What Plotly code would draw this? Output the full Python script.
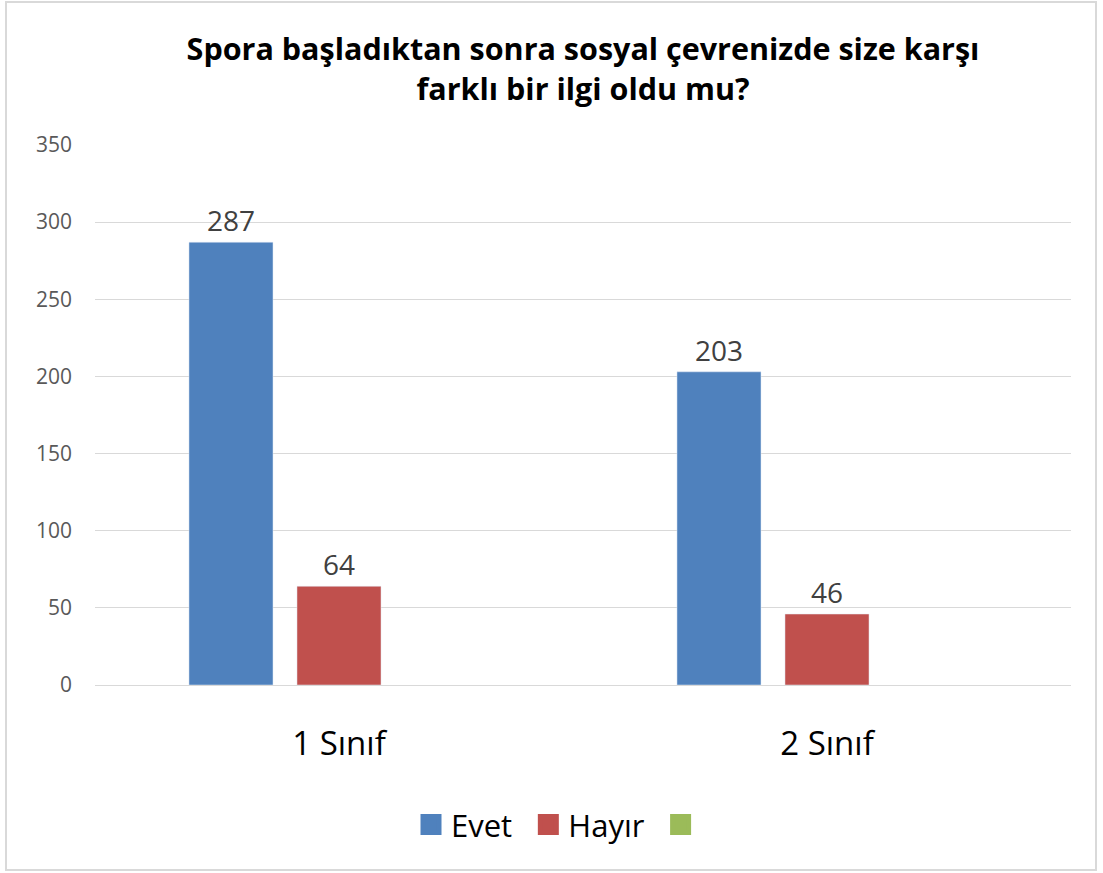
import plotly.graph_objects as go

categories = ["1 Sınıf", "2 Sınıf"]
evet = [287, 203]
hayir = [64, 46]
third = [None, None]
tick_vals = [0, 50, 100, 150, 200, 250, 300, 350]

FONT = "Open Sans"
BLUE, RED, GREEN = "#4f81bd", "#c0504d", "#9bbb59"

fig = go.Figure()
fig.add_trace(go.Bar(name="Evet", x=categories, y=evet, marker_color=BLUE,
                     text=evet, textposition="outside", showlegend=False,
                     textfont=dict(size=28, color="#404040", family=FONT), cliponaxis=False))
fig.add_trace(go.Bar(name="Hayır", x=categories, y=hayir, marker_color=RED,
                     text=hayir, textposition="outside", showlegend=False,
                     textfont=dict(size=28, color="#404040", family=FONT), cliponaxis=False))
fig.add_trace(go.Bar(name=" ", x=categories, y=third, marker_color=GREEN, showlegend=False))

# legend entries
for nm, col in [("Evet\u00a0\u200a", BLUE), ("Hayır\u00a0\u200a", RED), (" ", GREEN)]:
    fig.add_trace(go.Scatter(x=[None], y=[None], mode="markers", name=nm,
                             marker=dict(symbol="square", size=16, color=col,
                                         line=dict(color=col, width=5))))

fig.update_layout(
    width=1103, height=873,
    paper_bgcolor="white", plot_bgcolor="white",
    font=dict(family=FONT, color="#595959"),
    title=dict(text="<b>Spora başladıktan sonra sosyal çevrenizde size karşı<br>farklı bir ilgi oldu mu?</b>",
               x=0.5, xanchor="center", xref="paper", yref="container", y=0.931, yanchor="top",
               font=dict(size=30.5, color="black", family=FONT)),
    margin=dict(l=95, r=32, t=145, b=188),
    barmode="group", bargap=0.336, bargroupgap=0.222,
    legend=dict(orientation="h", x=0.479, xanchor="center", y=-0.209, yanchor="top",
                font=dict(size=31, color="black", family=FONT), itemwidth=30),
    xaxis=dict(tickfont=dict(size=33, color="black", family=FONT), showline=False,
               ticklabelstandoff=36),
    yaxis=dict(range=[0, 350], tickvals=tick_vals, showgrid=True, gridcolor="#d9d9d9",
               gridwidth=1.3, zeroline=True, zerolinecolor="#d9d9d9", zerolinewidth=1.3,
               tickfont=dict(size=21, color="#595959", family=FONT), ticklabelstandoff=22),
    shapes=[dict(type="rect", xref="paper", yref="paper", x0=-0.0912, x1=1.0256, y0=-0.3426, y1=1.2648,
                 line=dict(color="#d9d9d9", width=2))],
)
fig.write_html("out.html", config={"displayModeBar": False},
               post_script="document.body.style.margin='0px';")
